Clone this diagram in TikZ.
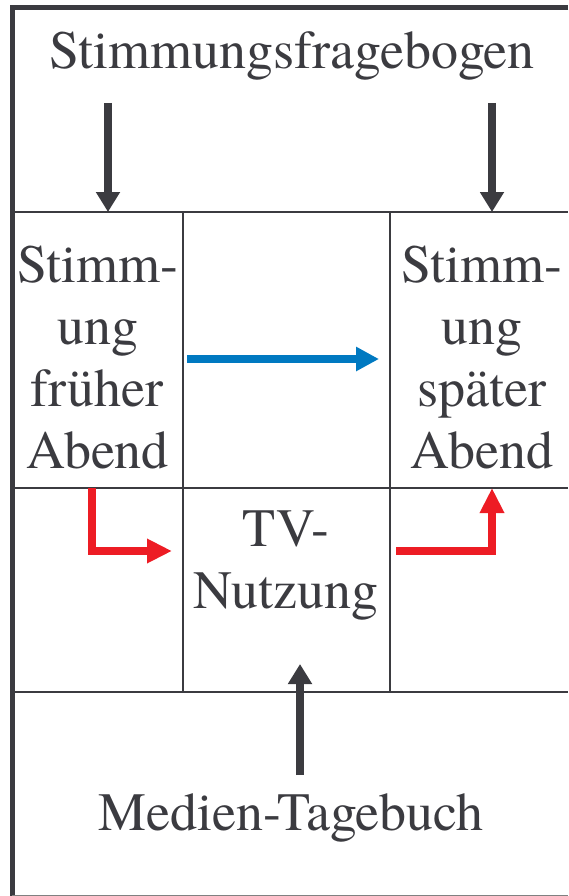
\documentclass[tikz,border=0pt]{standalone}
\usepackage{fontspec}
\setmainfont{texgyretermes-regular.otf}
\usetikzlibrary{arrows.meta}
\definecolor{grau}{HTML}{3B3B40}
\definecolor{blau}{HTML}{0079C1}
\definecolor{rot}{HTML}{ED1C24}

\begin{document}
\begin{tikzpicture}[x=1pt,y=-1pt]
		\tikzstyle{every node}+=[inner sep=0pt, text=grau, align=center, font=\rmfamily\fontsize{54}{62}\selectfont]
		\tikzstyle{linie}=[grau, line width=2pt]
		\tikzstyle{pfeil}=[line width=8pt, -{Triangle[length=20pt,width=23pt]}]
		\useasboundingbox (0,0) rectangle (568,896);
		% Rahmen und Tabelle
		\draw [grau, line width=5pt] (568,7.5) -- (12,7.5) -- (12,896);
		\draw [gray, line width=1pt] (12,895.5) -- (568,895.5);
		\draw [linie] (12,212) -- (568,212);
		\draw [linie] (12,488) -- (568,488);
		\draw [linie] (12,692) -- (568,692);
		\draw [linie] (183,212) -- (183,692);
		\draw [linie] (390,212) -- (390,692);
		% Texte
		\node (frage) [anchor=base] at (292,69) {Stimmungsfragebogen};
		\node (frueh) at (97.5,357.5) {Stimm-\\ung\\früher\\Abend};
		\node (spaet) at (482,357.5) {Stimm-\\ung\\später\\Abend};
		\node (tv) at (286,566) {TV-\\Nutzung};
		\node (tagebuch) [anchor=base] at (291,830) {Medien-Tagebuch};
		% Pfeilpunkte
		\coordinate (frage-l) at (108,103);
		\coordinate (frage-r) at (492,103);
		\coordinate (frueh-o) at (108,212);
		\coordinate (spaet-o) at (492,212);
		\coordinate (frueh-u) at (92,488);
		\coordinate (spaet-u) at (492,488);
		\coordinate (tv-l) at (172,551);
		\coordinate (tv-r) at (396,551);
		\coordinate (tv-u) at (300,664);
		\coordinate (tagebuch-o) at (300,775);
		\coordinate (mitte-l) at (187,359);
		\coordinate (mitte-r) at (379,359);
		% Pfeile
		\draw [pfeil, grau] (frage-l) -- (frueh-o);
		\draw [pfeil, grau] (frage-r) -- (spaet-o);
		\draw [pfeil, grau] (tagebuch-o) -- (tv-u);
		\draw [pfeil, blau, -{Triangle[length=23pt,width=23pt]}] (mitte-l) -- (mitte-r);
		\draw [pfeil, rot, -{Triangle[length=25pt,width=23pt]}] (frueh-u) |- (tv-l);
		\draw [pfeil, rot, -{Triangle[length=25pt,width=23pt]}] (tv-r) -| (spaet-u);
\end{tikzpicture}
\end{document}
